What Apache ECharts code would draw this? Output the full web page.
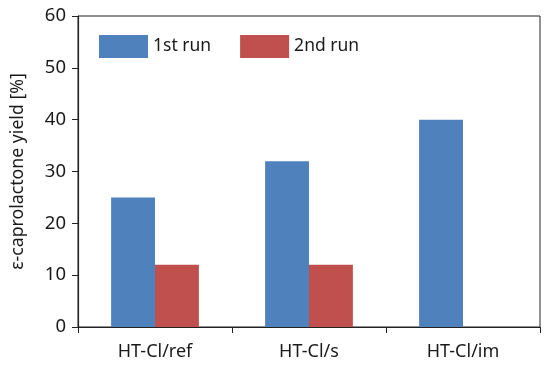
<!DOCTYPE html>
<html>
<head>
<meta charset="utf-8">
<script src="https://cdn.jsdelivr.net/npm/echarts@6/dist/echarts.min.js"></script>
<style>html,body{margin:0;padding:0;background:#fff}#c{width:550px;height:375px}</style>
</head>
<body>
<div id="c"></div>
<script>
const categories = ['HT-Cl/ref', 'HT-Cl/s', 'HT-Cl/im'];
const run1 = [25, 32, 40];
const run2 = [12, 12, null];
const seriesNames = ['1st run', '2nd run'];
const yTicks = { min: 0, max: 60, interval: 10 };

const chart = echarts.init(document.getElementById('c'), null, { renderer: 'canvas' });
const font = 'Noto Sans';
chart.setOption({
  animation: false,
  textStyle: { fontFamily: font },
  grid: { left: 78, right: 10, top: 16, bottom: 48, containLabel: false, outerBoundsMode: 'none', show: true, borderColor: '#222', borderWidth: 1, backgroundColor: 'transparent' },
  legend: {
    left: 94, top: 30, itemWidth: 49, itemHeight: 23, itemGap: 29,
    icon: 'rect',
    textStyle: { fontSize: 17.5, color: '#1a1a1a', fontFamily: font },
    data: seriesNames
  },
  xAxis: {
    type: 'category', data: categories,
    axisLine: { lineStyle: { color: '#222', width: 1.2 } },
    axisTick: { show: true, length: 6, lineStyle: { color: '#222' } },
    axisLabel: { fontSize: 18, color: '#1a1a1a', margin: 16, fontFamily: font }
  },
  yAxis: {
    type: 'value', min: yTicks.min, max: yTicks.max, interval: yTicks.interval,
    name: 'ε-caprolactone yield [%]', nameLocation: 'middle', nameGap: 51,
    nameTextStyle: { fontSize: 17.7, color: '#1a1a1a', fontFamily: font },
    axisLine: { show: true, lineStyle: { color: '#222', width: 1.2 } },
    axisTick: { show: true, length: 6, lineStyle: { color: '#222' } },
    axisLabel: { fontSize: 18.5, color: '#1a1a1a', margin: 12, fontFamily: font },
    splitLine: { show: false }
  },
  series: [
    { name: seriesNames[0], type: 'bar', data: run1, itemStyle: { color: '#4F81BD' }, barGap: '0%', barCategoryGap: '43%' },
    { name: seriesNames[1], type: 'bar', data: run2, itemStyle: { color: '#C0504D' } }
  ]
});
</script>
</body>
</html>
